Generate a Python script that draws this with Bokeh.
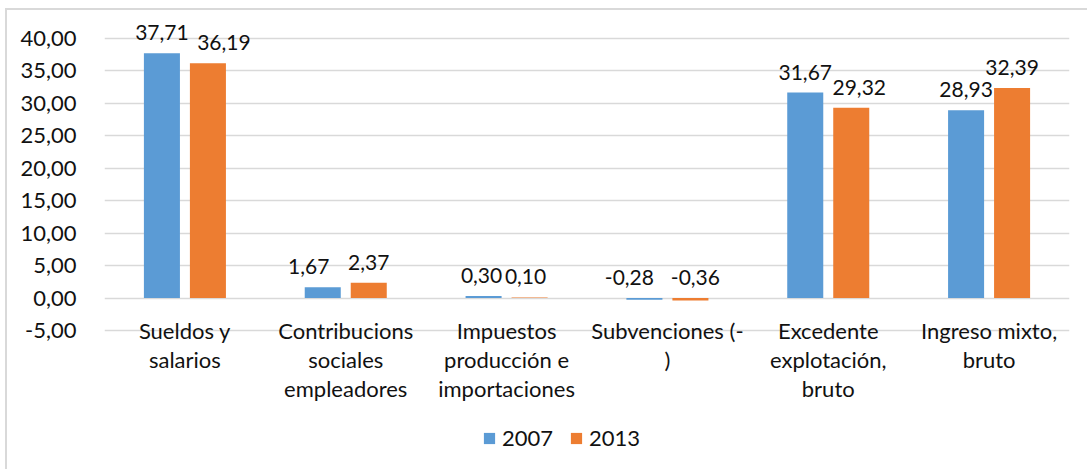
from bokeh.plotting import figure
from bokeh.models import (ColumnDataSource, FactorRange, FixedTicker, LabelSet,
                          Legend, LegendItem, Range1d)
from bokeh.core.properties import value
from bokeh.transform import dodge
from bokeh.embed import file_html
from bokeh.resources import INLINE

categories = ["Sueldos y salarios", "Contribucions sociales empleadores",
              "Impuestos producción e importaciones", "Subvenciones (- )",
              "Excedente explotación, bruto", "Ingreso mixto, bruto"]
category_lines = [["Sueldos y", "salarios"],
                  ["Contribucions", "sociales", "empleadores"],
                  ["Impuestos", "producción e", "importaciones"],
                  ["Subvenciones (-", ")"],
                  ["Excedente", "explotación,", "bruto"],
                  ["Ingreso mixto,", "bruto"]]
values_2007 = [37.71, 1.67, 0.30, -0.28, 31.67, 28.93]
values_2013 = [36.19, 2.37, 0.10, -0.36, 29.32, 32.39]
y_ticks = [-5, 0, 5, 10, 15, 20, 25, 30, 35, 40]

# label nudges (pixels) to mimic the reference's overlap avoidance
dx_2007 = [0, -14, -2, -15, 0, 0]
dx_2013 = [16, 0, -4, 5, 8, 0]

FONT = "Lato"
FS = "22px"
TXT = "#111111"
BLUE = "#5B9BD5"
ORANGE = "#ED7D31"


def fmt(v):
    return f"{v:.2f}".replace(".", ",")


# frame spans the full height; -5..40 mapped to the reference plot area
scale = 292 / 45.0
y_top = 40 + 28 / scale
y_bot = -5 - 141 / scale

p = figure(x_range=FactorRange(*categories), y_range=Range1d(y_bot, y_top),
           width=1082, height=461, output_backend="svg", toolbar_location=None,
           min_border_left=97, min_border_right=20, min_border_top=0,
           min_border_bottom=0)
p.styles = {"border-left": "2px solid #d9d9d9", "border-top": "2px solid #d9d9d9",
            "margin-left": "5px", "margin-top": "8px"}
p.outline_line_color = None
p.background_fill_color = "white"
p.border_fill_color = "white"

src = ColumnDataSource(dict(
    cat=categories, v07=values_2007, v13=values_2013,
    t07=[max(v, 0) for v in values_2007], t13=[max(v, 0) for v in values_2013],
    l07=[fmt(v) for v in values_2007], l13=[fmt(v) for v in values_2013],
    d07=dx_2007, d13=dx_2013))

off = 0.143
bw = 0.224
r1 = p.vbar(x=dodge("cat", -off, range=p.x_range), top="v07", bottom=0, width=bw,
            source=src, fill_color=BLUE, line_color=None)
r2 = p.vbar(x=dodge("cat", off, range=p.x_range), top="v13", bottom=0, width=bw,
            source=src, fill_color=ORANGE, line_color=None)

for xf, yf, lf, df in [(-off, "t07", "l07", "d07"), (off, "t13", "l13", "d13")]:
    p.add_layout(LabelSet(x=dodge("cat", xf, range=p.x_range), y=yf, text=lf, source=src,
                          x_offset=df, y_offset=13, text_align="center",
                          text_baseline="bottom", text_font=value(FONT),
                          text_font_size="21px", text_color=TXT))

# category labels (multi-line)
cx, cy, ct, co = [], [], [], []
for c, lines in zip(categories, category_lines):
    for i, ln in enumerate(lines):
        cx.append(c)
        cy.append(-5)
        ct.append(ln)
        co.append(-i * 29)
csrc = ColumnDataSource(dict(x=cx, y=cy, t=ct, o=co))
p.add_layout(LabelSet(x="x", y="y", text="t", y_offset="o", source=csrc,
                      text_align="center", text_baseline="middle",
                      text_font=value(FONT), text_font_size=FS, text_color=TXT))

p.xaxis.visible = False
p.xgrid.grid_line_color = None
p.ygrid.ticker = FixedTicker(ticks=y_ticks)
p.ygrid.grid_line_color = "#d9d9d9"
p.ygrid.grid_line_width = 1.5
p.yaxis.ticker = FixedTicker(ticks=y_ticks)
p.yaxis.major_label_overrides = {t: fmt(t) for t in y_ticks}
p.yaxis.axis_line_color = None
p.yaxis.major_tick_line_color = None
p.yaxis.minor_tick_line_color = None
p.yaxis.major_label_standoff = 22
p.yaxis.major_label_text_font = FONT
p.yaxis.major_label_text_font_size = FS
p.yaxis.major_label_text_color = TXT

legend = Legend(items=[LegendItem(label="2007", renderers=[r1]),
                       LegendItem(label="2013", renderers=[r2])],
                orientation="horizontal", location=(378, 20),
                glyph_width=14, glyph_height=14, spacing=16, padding=0, margin=0,
                label_standoff=6, label_text_font=FONT, label_text_font_size=FS,
                label_text_color=TXT, border_line_color=None,
                background_fill_alpha=0)
p.add_layout(legend, "center")

open("out.html", "w").write(file_html(p, INLINE))
